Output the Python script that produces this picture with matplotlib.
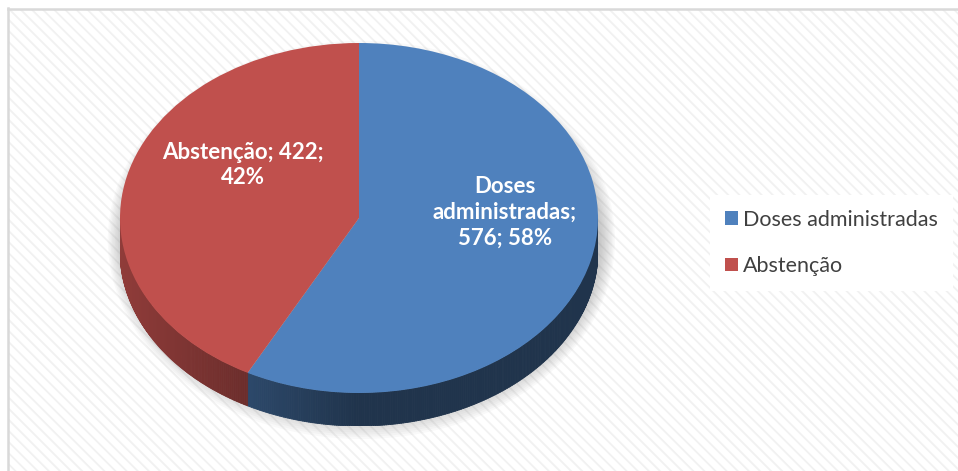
import numpy as np
import matplotlib
matplotlib.use("Agg")
import matplotlib.pyplot as plt
from matplotlib.patches import Rectangle, Ellipse
from matplotlib.collections import PolyCollection

# ---- data ----
categories = ["Doses administradas", "Abstenção"]
values = [576, 422]
percents = [58, 42]
top_colors = ["#4F81BD", "#C0504D"]
label_lines = ["Doses\nadministradas;\n{v}; {p}%", "Abstenção; {v};\n{p}%"]

W, H = 958, 471
fig = plt.figure(figsize=(W / 100, H / 100), dpi=100)
fig.patch.set_facecolor("white")

plt.rcParams["hatch.linewidth"] = 1.3
# chart area background with faint diagonal stripes
bg = Rectangle((8 / W, 0), 1, 1 - 9 / H, transform=fig.transFigure,
               facecolor="white", edgecolor="#F1F1F1", hatch="\\\\\\", lw=0, zorder=-10)
fig.patches.append(bg)
fig.lines.append(plt.Line2D([7.5 / W, 7.5 / W], [0, 1 - 8 / H], transform=fig.transFigure,
                            color="#D9D9D9", lw=1.8, zorder=-5))
fig.lines.append(plt.Line2D([7.5 / W, 1], [1 - 8.5 / H, 1 - 8.5 / H], transform=fig.transFigure,
                            color="#D9D9D9", lw=1.8, zorder=-5))

# ---- pie geometry (pixels) ----
cx, cy_top = 359, 218
rx, ry = 239, 175
depth_px = 33
d = depth_px / ry

left = (cx - rx) / W
bottom = (H - (cy_top + ry + depth_px)) / H
ax = fig.add_axes([left, bottom, 2 * rx / W, (2 * ry + depth_px) / H])
ax.set_xlim(-1, 1)
ax.set_ylim(-1 - d, 1)
ax.axis("off")

# soft shadow
for i in range(12):
    e = Ellipse((0.01, -d * 0.6 - 0.012), 1.99 + 0.012 * i, 2.0 + 0.025 * i,
                facecolor="#6F6F6F", edgecolor="none", alpha=0.04, zorder=0.5,
                clip_on=False)
    ax.add_patch(e)

# angles (degrees, math convention), pie starts at 90 and runs clockwise
total = sum(values)
bounds = [90.0]
for v in values:
    bounds.append(bounds[-1] - 360.0 * v / total)

# side band (front half of the rim)
polys, cols = [], []
for k, v in enumerate(values):
    a1, a2 = bounds[k + 1], bounds[k]  # a1 < a2
    base = np.array(matplotlib.colors.to_rgb(top_colors[k]))
    ts = np.linspace(a1, a2, 400)
    for t1, t2 in zip(ts[:-1], ts[1:]):
        r1, r2 = np.deg2rad(t1), np.deg2rad(t2)
        if np.sin(r1) > 0.001 and np.sin(r2) > 0.001:
            continue
        tm = (r1 + r2) / 2
        x1, y1 = np.cos(r1), np.sin(r1)
        x2, y2 = np.cos(r2), np.sin(r2)
        polys.append([(x1, y1), (x2, y2), (x2, y2 - d), (x1, y1 - d)])
        f = max(0.40, 0.40 + 0.35 * (-np.cos(tm)))
        cols.append(tuple(np.clip(base * f, 0, 1)))
pc = PolyCollection(polys, facecolors=cols, edgecolors=cols, linewidths=0.6, zorder=1)
ax.add_collection(pc)

# top face
wedges, _ = ax.pie(values, startangle=90, counterclock=False, colors=top_colors,
                   radius=1, center=(0, 0), wedgeprops=dict(linewidth=0))
for w in wedges:
    w.set_zorder(2)
ax.set_aspect("auto")
ax.set_xlim(-1, 1)
ax.set_ylim(-1 - d, 1)

# data labels (positions in pie-axes units)
label_pos = [((505 - cx) / rx, (cy_top - 212) / ry), ((243 - cx) / rx, (cy_top - 165) / ry)]
for k in range(len(values)):
    txt = label_lines[k].format(v=values[k], p=percents[k])
    ax.text(label_pos[k][0], label_pos[k][1], txt, ha="center", va="center",
            color="white", fontsize=16, fontweight="bold", family="Lato",
            linespacing=1.28, zorder=5)

# legend
leg = fig.legend(wedges, categories, loc="center left",
                 bbox_to_anchor=(710 / W, 1 - 243 / H), frameon=True,
                 facecolor="white", edgecolor="none", fancybox=False, framealpha=1,
                 prop=dict(family="Lato", size=15.5), labelcolor="#404040",
                 handlelength=0.6, handleheight=0.6, handletextpad=0.25,
                 labelspacing=1.22, borderpad=0.7, borderaxespad=0)

fig.savefig("out.png", dpi=100)
